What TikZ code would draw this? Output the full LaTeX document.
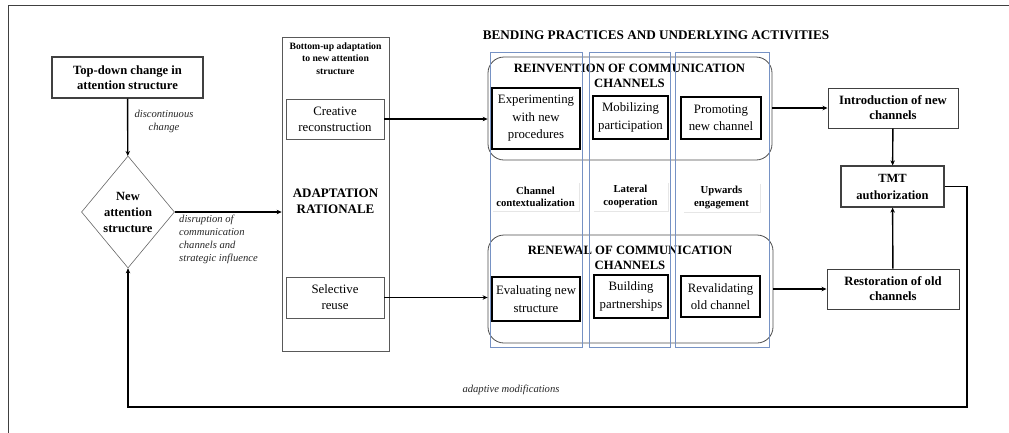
\documentclass[tikz,border=0pt]{standalone}
\usepackage{fontspec}
\setmainfont{Liberation Serif}
\usetikzlibrary{arrows.meta,shapes.geometric,shadows}
\definecolor{colblue}{RGB}{118,146,196}

\begin{document}
\begin{tikzpicture}[x=1pt,y=-1pt]
   \tikzstyle{every node}=[inner sep=0pt, align=center]
   \tikzstyle{arr}=[line width=1.4pt, -{Stealth[length=5pt,width=4.5pt]}]
   \tikzstyle{plain}=[draw=black!65, line width=0.7pt, fill=white]
   \tikzstyle{result}=[draw=black!75, line width=1pt, fill=white, font=\fontsize{12.7}{15}\selectfont\bfseries]
   \tikzstyle{practice}=[draw=black, line width=1.6pt, fill=white, drop shadow={opacity=0.3, shadow xshift=1pt, shadow yshift=-1pt}, font=\fontsize{12.8}{17.5}\selectfont]
   \tikzstyle{activity}=[fill=white, drop shadow={opacity=0.2, shadow xshift=1pt, shadow yshift=-1pt}, font=\fontsize{10.7}{12.3}\selectfont\bfseries]
   \tikzstyle{group}=[draw=black!70, line width=0.8pt, rounded corners=16pt]
   \tikzstyle{column}=[draw=colblue, line width=0.7pt]
   \tikzstyle{note}=[font=\fontsize{10.6}{13}\selectfont\itshape, text=black!85]
   \tikzstyle{heading}=[font=\fontsize{12.7}{15}\selectfont\bfseries]

\useasboundingbox (0,0) rectangle (1009,432);
\draw[draw=black!75, line width=1pt] (8,440) -- (8,5) -- (1015,5);

\node[result, line width=1.4pt, minimum width=151pt, minimum height=41pt, font=\fontsize{12.6}{14.5}\selectfont\bfseries] (topdown) at (127.5,77.5) {Top-down change in\\attention structure};
\node[diamond, aspect=0.83, draw=black!60, line width=0.6pt, minimum width=93pt, minimum height=112pt, font=\fontsize{12.5}{16}\selectfont\bfseries] (newstr) at (128,212) {New\\attention\\structure};

\node[plain, minimum width=107pt, minimum height=314pt] (adapt) at (335.5,194) {};
\node[font=\fontsize{9.7}{12.5}\selectfont\bfseries] (bottomup) at (335.5,58.5) {Bottom-up adaptation\\to new attention\\structure};
\node[font=\fontsize{13}{16.5}\selectfont\bfseries] (rationale) at (335.5,201.5) {ADAPTATION\\RATIONALE};
\node[plain, minimum width=98pt, minimum height=40pt, font=\fontsize{12.8}{16}\selectfont] (creative) at (335,119) {Creative\\reconstruction};
\node[plain, minimum width=98pt, minimum height=41pt, font=\fontsize{12.8}{16}\selectfont] (selective) at (335,297.5) {Selective\\reuse};

\node[font=\fontsize{13.2}{15}\selectfont\bfseries] (bending) at (656,35) {BENDING PRACTICES AND UNDERLYING ACTIVITIES};

\node[group, minimum width=284pt, minimum height=103pt] (reinv) at (630,108.5) {};
\node[heading] (reinvtitle) at (629.5,75.5) {REINVENTION OF COMMUNICATION\\CHANNELS};
\node[practice, minimum width=88pt, minimum height=61pt] (experiment) at (536,118.5) {Experimenting\\with new\\procedures};
\node[practice, minimum width=75pt, minimum height=43pt] (mobilize) at (630.5,117.5) {Mobilizing\\participation};
\node[practice, minimum width=80pt, minimum height=42pt] (promote) at (721,118) {Promoting\\new channel};

\node[activity, minimum width=87pt, minimum height=29pt] (context) at (535.5,196.5) {Channel\\contextualization};
\node[activity, minimum width=75pt, minimum height=29pt] (lateral) at (630.5,196.5) {Lateral\\cooperation};
\node[activity, minimum width=77pt, minimum height=29pt] (upwards) at (721.5,197.5) {Upwards\\engagement};

\node[group, minimum width=285pt, minimum height=108pt] (renew) at (630.5,289) {};
\node[heading] (renewtitle) at (630,257.5) {RENEWAL OF COMMUNICATION\\CHANNELS};
\node[practice, minimum width=88pt, minimum height=44pt] (evaluate) at (536,299) {Evaluating new\\structure};
\node[practice, minimum width=74pt, minimum height=43pt] (partner) at (631,296.5) {Building\\partnerships};
\node[practice, minimum width=79pt, minimum height=41pt] (revalidate) at (720.5,296.5) {Revalidating\\old channel};

\draw[column] (490,52) rectangle (582,347);
\draw[column] (589,52) rectangle (670,347);
\draw[column] (675,52) rectangle (769,347);

\node[result, minimum width=130pt, minimum height=40pt] (intro) at (893,108) {Introduction of new\\channels};
\node[result, line width=1.2pt, minimum width=103pt, minimum height=41pt, font=\fontsize{12.5}{17}\selectfont\bfseries] (tmt) at (892.5,186.5) {TMT\\authorization};
\node[result, minimum width=132pt, minimum height=40pt] (restore) at (893,289) {Restoration of old\\channels};

\draw[arr] (topdown) -- (newstr);
\node[note] (disclabel) at (164,121.5) {discontinuous\\change};
\draw[arr] (newstr.east) -- (newstr.east -| adapt.west);
\node[note, align=left, anchor=west] (disrlabel) at (179,239) {disruption of\\communication\\channels and\\strategic influence};

\draw[arr] (creative.east) -- (creative.east -| reinv.west);
\draw[arr] (selective.east) -- (selective.east -| renew.west);
\draw[arr] (reinv.east |- intro.west) -- (intro.west);
\draw[arr] (renew.east |- restore.west) -- (restore.west);
\draw[arr] (intro) -- (tmt);
\draw[arr] (restore) -- (tmt);

\coordinate (loop) at (967,407);
\draw[arr] (tmt.east) -| (loop) -| (newstr.south);
\node[note] (adaptlabel) at (511,390) {adaptive modifications};

\end{tikzpicture}
\end{document}
